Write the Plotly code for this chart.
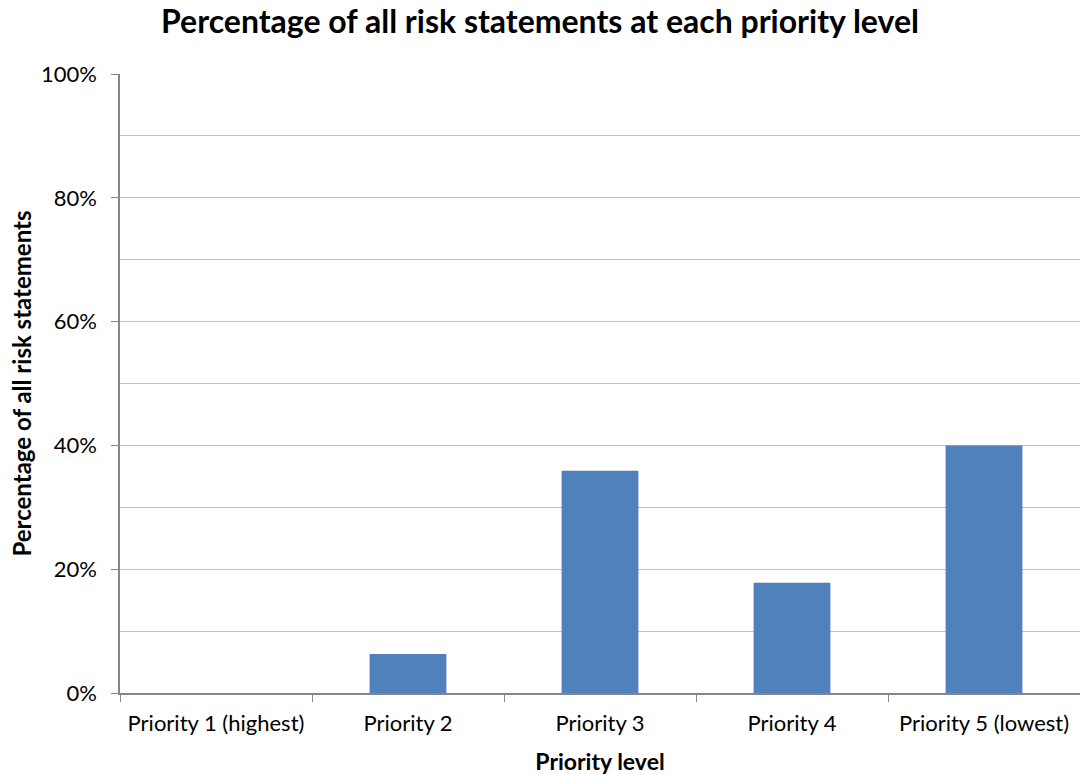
import plotly.graph_objects as go

# Share of risk statements at each priority level (percent)
categories = ["Priority 1 (highest)", "Priority 2", "Priority 3", "Priority 4", "Priority 5 (lowest)"]
percentages = [0.0, 6.3, 35.9, 17.8, 40.0]

FONT = "Lato, Carlito, Calibri, sans-serif"
AXIS_GREY = "#868686"
GRID_GREY = "#BFBFBF"

fig = go.Figure(
    go.Bar(
        x=categories,
        y=percentages,
        width=0.4,
        marker=dict(color="#4F81BD", line=dict(width=0)),
        hovertemplate="%{x}: %{y:.1f}%<extra></extra>",
    )
)

fig.update_layout(
    width=1080,
    height=775,
    margin=dict(l=120, r=0, t=74, b=82),
    paper_bgcolor="white",
    plot_bgcolor="white",
    font=dict(family=FONT, size=22, color="#000000"),
    title=dict(
        text="<b>Percentage of all risk statements at each priority level</b>",
        x=0.5,
        xanchor="center",
        y=0.972,
        yanchor="middle",
        font=dict(family=FONT, size=32, color="#000000"),
    ),
    showlegend=False,
    bargap=0.6,
)

fig.update_xaxes(
    type="category",
    showline=True,
    linecolor=AXIS_GREY,
    linewidth=1.5,
    ticks="outside",
    tickson="boundaries",
    ticklen=7,
    tickcolor=AXIS_GREY,
    showgrid=False,
    tickfont=dict(family=FONT, size=22),
    ticklabelstandoff=10,
    title=dict(text="<b>Priority level</b>", font=dict(family=FONT, size=23), standoff=20),
)

fig.update_yaxes(
    range=[0, 100],
    dtick=20,
    ticksuffix="%",
    showline=True,
    linecolor=AXIS_GREY,
    linewidth=1.5,
    ticks="outside",
    ticklen=7,
    tickcolor=AXIS_GREY,
    showgrid=True,
    gridcolor=GRID_GREY,
    gridwidth=1,
    minor=dict(dtick=10, showgrid=True, gridcolor=GRID_GREY, gridwidth=1),
    zeroline=False,
    tickfont=dict(family=FONT, size=22),
    ticklabelstandoff=10,
    title=dict(
        text="<b>Percentage of all risk statements</b>",
        font=dict(family=FONT, size=24),
        standoff=3,
    ),
)

fig.write_html("out.html")
